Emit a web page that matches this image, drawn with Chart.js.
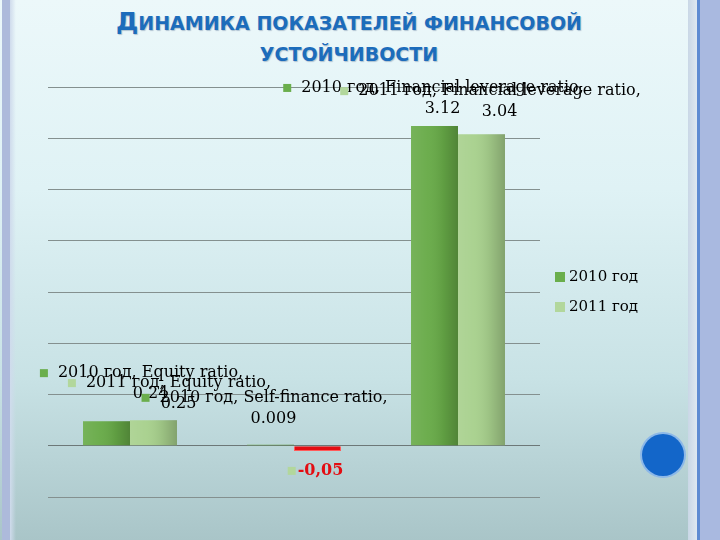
<!DOCTYPE html>
<html>
<head>
<meta charset="utf-8">
<script src="https://cdn.jsdelivr.net/npm/chart.js@4.4.1/dist/chart.umd.min.js"></script>
<style>
    html, body { margin: 0; padding: 0; }
    body {
        width: 720px; height: 540px; overflow: hidden; position: relative;
        background: linear-gradient(#ecf8fa 0%, #dff2f5 35%, #c8e2e5 70%, #a9c5c8 100%);
    }
    #left-band { position: absolute; left: 2px; top: 0; width: 8px; height: 540px; background: #adbadb; }
    #left-fade { position: absolute; left: 10px; top: 0; width: 6px; height: 540px; background: linear-gradient(to right, #cfdbec, rgba(220,240,244,0)); }
    #right-light { position: absolute; left: 688px; top: 0; width: 9px; height: 540px; background: linear-gradient(to right, #c9d7e6, #dfe8f1); }
    #right-line { position: absolute; left: 697px; top: 0; width: 3px; height: 540px; background: #5f8bd2; }
    #right-band { position: absolute; left: 700px; top: 0; width: 20px; height: 540px; background: #a9b9e0; }
    #dot { position: absolute; left: 642px; top: 434px; width: 42px; height: 42px; border-radius: 50%; background: #1366c9; box-shadow: 0 0 0 2px #8cb8e8; }
    #title {
        position: absolute; left: 0; top: 6px; width: 698px; text-align: center;
        font-family: "DejaVu Sans", sans-serif; font-weight: bold; color: #1c6cbb;
        font-size: 19px; line-height: 31px; text-shadow: 1px 1px 1px rgba(0,40,90,0.25);
    }
    #title .big { font-size: 25px; }
    #wrap { position: absolute; left: 0; top: 0; width: 720px; height: 540px; }
</style>
</head>
<body>
<div id="left-band"></div>
<div id="left-fade"></div>
<div id="right-light"></div>
<div id="right-line"></div>
<div id="right-band"></div>
<div id="dot"></div>
<div id="title"><span class="big">Д</span>ИНАМИКА ПОКАЗАТЕЛЕЙ ФИНАНСОВОЙ<br>УСТОЙЧИВОСТИ</div>
<div id="wrap"><canvas id="chart"></canvas></div>

<script>
// Data
const categories = ['Equity ratio', 'Self-finance ratio', 'Financial leverage ratio'];
const seriesNames = ['2010 год', '2011 год'];
const values2010 = [0.24, 0.009, 3.12];
const values2011 = [0.25, -0.05, 3.04];
const valueText2010 = ['0.24', '0.009', '3.12'];
const valueText2011 = ['0.25', '-0,05', '3.04'];
const yMin = -0.5;
const yMax = 3.5;
const yStep = 0.5;


// Styles
const color2010 = '#67aa47';
const color2011 = '#a7d08c';
const key2010 = '#6aae4c';
const key2011 = '#b2d79c';
const negColor = '#e30d12';
const labelFont = '16px "DejaVu Serif", serif';
const legendFont = '15px "DejaVu Serif", serif';

// label placement relative to the bar end (dx, dy of first line), and whether the name part is shown
const labelShift2010 = [[44, -48], [3, -47], [8, -38]];
const labelShift2011 = [[25, -37], [3, 20], [18, -43]];
const showName2011 = [true, false, true];


// Plugins
const barShade = {
    id: 'barShade',
    afterDatasetsDraw(chart) {
        const ctx = chart.ctx;
        chart.data.datasets.forEach((ds, di) => {
            chart.getDatasetMeta(di).data.forEach((bar, i) => {
                if (ds.data[i] < 0) return;
                const left = bar.x - bar.width / 2;
                const top = Math.min(bar.y, bar.base);
                const h = Math.abs(bar.base - bar.y);
                const g = ctx.createLinearGradient(left, 0, left + bar.width, 0);
                g.addColorStop(0, 'rgba(255,255,255,0.10)');
                g.addColorStop(0.35, 'rgba(255,255,255,0.04)');
                g.addColorStop(0.7, 'rgba(0,0,0,0.08)');
                g.addColorStop(1, 'rgba(0,0,0,0.22)');
                ctx.fillStyle = g;
                ctx.fillRect(left, top, bar.width, h);
            });
        });
    }
};

const pptLabels = {
    id: 'pptLabels',
    afterDraw(chart) {
        const ctx = chart.ctx;
        ctx.save();
        ctx.textBaseline = 'middle';
        ctx.textAlign = 'center';

        chart.data.datasets.forEach((ds, di) => {
            chart.getDatasetMeta(di).data.forEach((bar, i) => {
                const [dx, dy] = ds.labelShift[i];
                const cx = bar.x + dx;
                const y1 = bar.y + dy;
                if (ds.showName[i]) {
                    const line1 = ds.label + ', ' + categories[i] + ',';
                    ctx.font = labelFont;
                    const w = ctx.measureText(line1).width;
                    ctx.fillStyle = ds.keyColor;
                    ctx.fillRect(cx - w / 2 - 18, y1 - 4, 8, 8);
                    ctx.fillStyle = '#000';
                    ctx.fillText(line1, cx, y1);
                    ctx.fillText(ds.valueText[i], cx, y1 + 21);
                } else {
                    ctx.font = 'bold ' + labelFont;
                    const w = ctx.measureText(ds.valueText[i]).width;
                    ctx.fillStyle = ds.keyColor;
                    ctx.fillRect(cx - w / 2 - 10, y1 - 4, 8, 8);
                    ctx.fillStyle = negColor;
                    ctx.fillText(ds.valueText[i], cx, y1);
                }
            });
        });

        // legend
        ctx.textAlign = 'left';
        ctx.font = legendFont;
        chart.data.datasets.forEach((ds, di) => {
            const y = 277 + di * 30;
            ctx.fillStyle = ds.keyColor;
            ctx.fillRect(555, y - 5, 10, 10);
            ctx.fillStyle = '#000';
            ctx.fillText(ds.label, 569, y);
        });
        ctx.restore();
    }
};


// Chart
const ctx = document.getElementById('chart');
new Chart(ctx, {
    type: 'bar',
    data: {
        labels: categories,
        datasets: [{
            label: seriesNames[0],
            data: values2010,
            backgroundColor: color2010,
            keyColor: key2010,
            valueText: valueText2010,
            labelShift: labelShift2010,
            showName: [true, true, true]
        }, {
            label: seriesNames[1],
            data: values2011,
            backgroundColor: values2011.map(v => v < 0 ? negColor : color2011),
            borderColor: values2011.map(v => v < 0 ? '#ff5a5a' : color2011),
            borderWidth: values2011.map(v => v < 0 ? 1 : 0),
            keyColor: key2011,
            valueText: valueText2011,
            labelShift: labelShift2011,
            showName: showName2011
        }]
    },
    options: {
        responsive: true,
        maintainAspectRatio: false,
        animation: false,
        layout: { padding: { left: 48, right: 180, top: 87, bottom: 43 } },
        datasets: {
            bar: { categoryPercentage: 0.573, barPercentage: 1.0 }
        },
        scales: {
            x: { display: false },
            y: {
                min: yMin,
                max: yMax,
                ticks: { display: false, stepSize: yStep },
                border: { display: false },
                grid: {
                    drawTicks: false,
                    lineWidth: 1,
                    color: c => c.tick && c.tick.value === 0 ? '#6d7878' : '#84908f'
                },
                afterFit: scale => { scale.width = 0; }
            }
        },
        plugins: {
            legend: { display: false },
            tooltip: { enabled: false }
        }
    },
    plugins: [barShade, pptLabels]
});
</script>
</body>
</html>
